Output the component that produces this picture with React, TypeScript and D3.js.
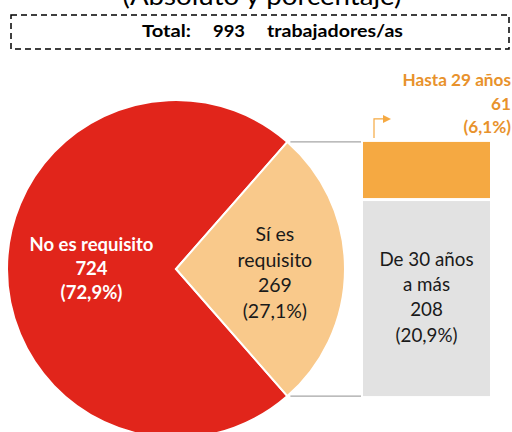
import React from "react";
import * as d3 from "d3";

const pieCategories = ["No es requisito", "Sí es requisito"];
const pieValues = [724, 269];
const piePercents = ["72,9%", "27,1%"];
const barCategories = ["Hasta 29 años", "De 30 años a más"];
const barValues = [61, 208];
const barPercents = ["6,1%", "20,9%"];
const totalValue = 993;
const titleText = "(Absoluto y porcentaje)";
const totalLabel = "Total:";
const totalUnit = "trabajadores/as";

const W = 512;
const H = 432;
const FONT = "Lato, 'Open Sans', sans-serif";
const RED = "#e1251b";
const LIGHT = "#f9c98b";
const ORANGE = "#f5a942";
const GRAY = "#e2e2e2";
const ORANGE_TEXT = "#e8922c";

export default function App() {
  const cx = 176;
  const cy = 269;
  const r = 169;
  const sum = d3.sum(pieValues);
  const theta = (2 * Math.PI * pieValues[1]) / sum;
  const start = Math.PI / 2 + theta / 2 - 2 * Math.PI;
  const pie = d3
    .pie<number>()
    .sort(null)
    .startAngle(start)
    .endAngle(start + 2 * Math.PI);
  const arcs = pie(pieValues);
  const arc = d3.arc<d3.PieArcDatum<number>>().innerRadius(0).outerRadius(r);
  const labelR = [0.5 * r, 0.585 * r];

  const si = arcs[1];
  const pTop = [cx + r * Math.sin(si.startAngle), cy - r * Math.cos(si.startAngle)];
  const pBot = [cx + r * Math.sin(si.endAngle), cy - r * Math.cos(si.endAngle)];

  const barSum = d3.sum(barValues);
  const y = d3.scaleLinear().domain([0, barSum]).range([pBot[1], pTop[1]]);
  const x = d3.scaleBand().domain(["stack"]).range([363, 490]).padding(0);
  const bx = x("stack")!;
  const bw = x.bandwidth();
  const stack = [
    { y0: barValues[1], y1: barSum, color: ORANGE },
    { y0: 0, y1: barValues[1], color: GRAY },
  ];

  const noLines = [pieCategories[0], String(pieValues[0]), `(${piePercents[0]})`];
  const siLines = ["Sí es", "requisito", String(pieValues[1]), `(${piePercents[1]})`];
  const grayLines = ["De 30 años", "a más", String(barValues[1]), `(${barPercents[1]})`];
  const orangeLines = [barCategories[0], String(barValues[0]), `(${barPercents[0]})`];

  const cNo = d3.arc<d3.PieArcDatum<number>>().innerRadius(labelR[0]).outerRadius(labelR[0]).centroid(arcs[0]);
  const cSi = d3.arc<d3.PieArcDatum<number>>().innerRadius(labelR[1]).outerRadius(labelR[1]).centroid(arcs[1]);

  const grayMid = (y(0) + y(barValues[1])) / 2;
  const ax = bx + 11;

  return (
    <svg
      width={W}
      height={H}
      style={{ position: "absolute", left: 0, top: 0, background: "#fff" }}
      fontFamily={FONT}
    >
      <text x={262} y={5} textAnchor="middle" fontSize={25} fill="#000" textLength={279} lengthAdjust="spacingAndGlyphs">
        {titleText}
      </text>
      <rect x={11} y={15} width={498} height={34} fill="none" stroke="#000" strokeWidth={1.5} strokeDasharray="6,4" />
      <g fontWeight="bold" fontSize={17} fill="#000">
        <text x={142} y={37} textLength={49} lengthAdjust="spacingAndGlyphs">{totalLabel}</text>
        <text x={213} y={37} textLength={32} lengthAdjust="spacingAndGlyphs">{String(totalValue)}</text>
        <text x={267} y={37} textLength={136} lengthAdjust="spacingAndGlyphs">{totalUnit}</text>
      </g>

      <g transform={`translate(${cx},${cy})`}>
        {arcs.map((a, i) => (
          <path key={i} d={arc(a) || ""} fill={i === 0 ? RED : LIGHT} stroke="#fff" strokeWidth={2} />
        ))}
      </g>

      <line x1={pTop[0] + 3} y1={pTop[1]} x2={bx - 2} y2={pTop[1]} stroke="#a6a6a6" strokeWidth={1.3} />
      <line x1={pBot[0] + 3} y1={pBot[1]} x2={bx - 2} y2={pBot[1]} stroke="#a6a6a6" strokeWidth={1.3} />

      {stack.map((s, i) => (
        <rect
          key={i}
          x={bx}
          y={y(s.y1) + (i === 0 ? 0 : 1.5)}
          width={bw}
          height={y(s.y0) - y(s.y1) - 1.5}
          fill={s.color}
        />
      ))}

      <g fontWeight="bold" fontSize={18.5} fill="#fff" textAnchor="middle">
        {noLines.map((t, i) => (
          <text key={i} x={cx + cNo[0]} y={cy + cNo[1] - 18 + i * 24}>
            {t}
          </text>
        ))}
      </g>
      <g fontSize={19.5} fill="#1a1a1a" textAnchor="middle">
        {siLines.map((t, i) => (
          <text key={i} x={cx + cSi[0]} y={cy + cSi[1] - 28 + i * 25.5}>
            {t}
          </text>
        ))}
      </g>
      <g fontSize={18.8} fill="#1a1a1a" textAnchor="middle">
        {grayLines.map((t, i) => (
          <text key={i} x={bx + bw / 2} y={grayMid - 32 + i * 25.3}>
            {t}
          </text>
        ))}
      </g>
      <g fontWeight="bold" fontSize={17.2} fill={ORANGE_TEXT} textAnchor="end">
        {orangeLines.map((t, i) => (
          <text key={i} x={511} y={86 + i * 23.5}>
            {t}
          </text>
        ))}
      </g>

      <path d={`M${ax},${pTop[1] - 4} V${pTop[1] - 23} H${ax + 9}`} fill="none" stroke={ORANGE} strokeWidth={1.2} />
      <path
        d={`M${ax + 9},${pTop[1] - 27} L${ax + 17},${pTop[1] - 23} L${ax + 9},${pTop[1] - 19} Z`}
        fill={ORANGE}
      />
    </svg>
  );
}
